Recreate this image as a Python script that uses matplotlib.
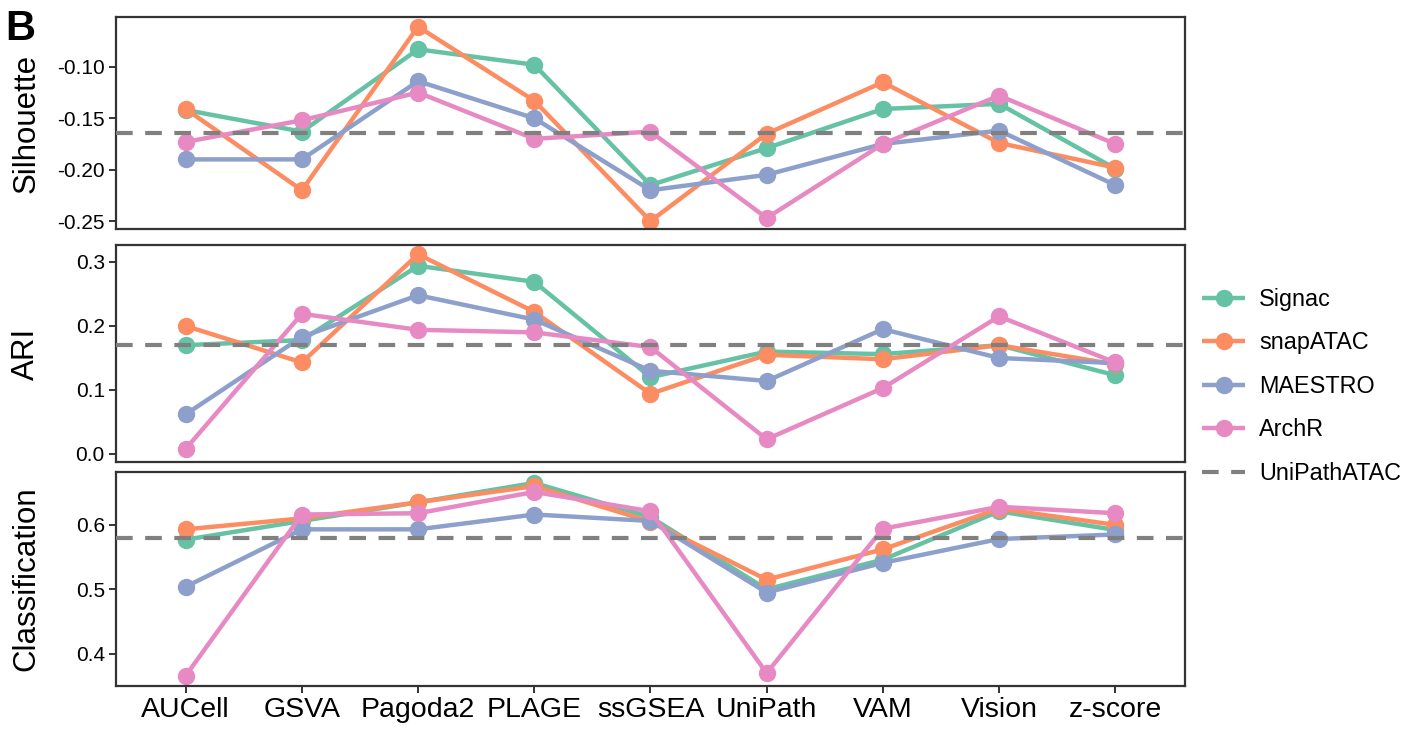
import matplotlib.pyplot as plt
import numpy as np

plt.rcParams['font.family'] = ['Liberation Sans', 'DejaVu Sans']

# methods on the x axis
methods = ['AUCell', 'GSVA', 'Pagoda2', 'PLAGE', 'ssGSEA', 'UniPath', 'VAM', 'Vision', 'z-score']
tools = ['Signac', 'snapATAC', 'MAESTRO', 'ArchR']
colors = ['#66C2A5', '#FC8D62', '#8DA0CB', '#E78AC3']

# Silhouette
sil_signac = [-0.142, -0.163, -0.083, -0.098, -0.215, -0.179, -0.141, -0.136, -0.199]
sil_snap = [-0.141, -0.220, -0.061, -0.133, -0.250, -0.165, -0.115, -0.174, -0.198]
sil_maestro = [-0.190, -0.190, -0.114, -0.150, -0.220, -0.205, -0.175, -0.162, -0.215]
sil_archr = [-0.173, -0.152, -0.125, -0.170, -0.163, -0.247, -0.175, -0.128, -0.175]
sil_unipath = -0.164

# ARI
ari_signac = [0.170, 0.178, 0.294, 0.269, 0.120, 0.160, 0.156, 0.170, 0.123]
ari_snap = [0.200, 0.143, 0.312, 0.222, 0.094, 0.155, 0.148, 0.170, 0.140]
ari_maestro = [0.062, 0.183, 0.248, 0.210, 0.130, 0.114, 0.195, 0.150, 0.142]
ari_archr = [0.008, 0.219, 0.194, 0.190, 0.167, 0.023, 0.103, 0.215, 0.143]
ari_unipath = 0.170

# Classification
cls_signac = [0.577, 0.606, 0.635, 0.665, 0.612, 0.500, 0.546, 0.621, 0.592]
cls_snap = [0.593, 0.610, 0.635, 0.660, 0.605, 0.515, 0.562, 0.625, 0.600]
cls_maestro = [0.504, 0.593, 0.593, 0.616, 0.606, 0.495, 0.541, 0.578, 0.585]
cls_archr = [0.366, 0.616, 0.618, 0.651, 0.621, 0.370, 0.594, 0.628, 0.618]
cls_unipath = 0.580

panels = [
    ('Silhouette', [sil_signac, sil_snap, sil_maestro, sil_archr], sil_unipath,
     (-0.2577, -0.0516), [-0.25, -0.20, -0.15, -0.10]),
    ('ARI', [ari_signac, ari_snap, ari_maestro, ari_archr], ari_unipath,
     (-0.0125, 0.3266), [0.0, 0.1, 0.2, 0.3]),
    ('Classification', [cls_signac, cls_snap, cls_maestro, cls_archr], cls_unipath,
     (0.350, 0.682), [0.4, 0.5, 0.6]),
]

fig = plt.figure(figsize=(14.11, 7.40), dpi=100)
boxes = [(0.0822, 0.6905, 0.7576, 0.2865),
         (0.0822, 0.3757, 0.7576, 0.2933),
         (0.0822, 0.0730, 0.7576, 0.2892)]

x = np.arange(len(methods))
edge = '#333333'
handles = []
for i, (name, series, ref, ylim, ticks) in enumerate(panels):
    ax = fig.add_axes(boxes[i])
    for vals, tool, c in zip(series, tools, colors):
        h, = ax.plot(x, vals, color=c, lw=3.2, marker='o', ms=11.5, label=tool,
                     solid_capstyle='butt')
        if i == 0:
            handles.append(h)
    d = ax.axhline(ref, color='#808080', lw=3.0, ls=(0, (4, 3)), zorder=5,
                   label='UniPathATAC')
    if i == 0:
        handles.append(d)
    ax.set_xlim(-0.6, 8.6)
    ax.set_ylim(*ylim)
    ax.set_yticks(ticks)
    ax.set_yticklabels([f'{t:.2f}' if i == 0 else f'{t:.1f}' for t in ticks])
    ax.set_ylabel(name, fontsize=22.5)
    ax.yaxis.set_label_coords(-0.07, 0.5)
    for s in ax.spines.values():
        s.set_color(edge)
        s.set_linewidth(1.6)
    ax.tick_params(axis='y', labelsize=15, length=5, width=1.4, color=edge, pad=3)
    ax.tick_params(axis='x', labelsize=20.5, length=5, width=1.4, color=edge, pad=3)
    ax.set_xticks(x)
    if i == 2:
        ax.set_xticklabels(methods)
    else:
        ax.tick_params(axis='x', length=0)
        ax.set_xticklabels([])

fig.legend(handles=handles, loc='center left', bbox_to_anchor=(0.852, 0.478),
           frameon=False, fontsize=16.8, handlelength=1.85, handletextpad=0.6,
           labelspacing=0.88, borderpad=0, borderaxespad=0)

fig.text(0.004, 0.988, 'B', fontsize=30, fontweight='bold', va='top', ha='left')

fig.savefig('out.png', dpi=100)
